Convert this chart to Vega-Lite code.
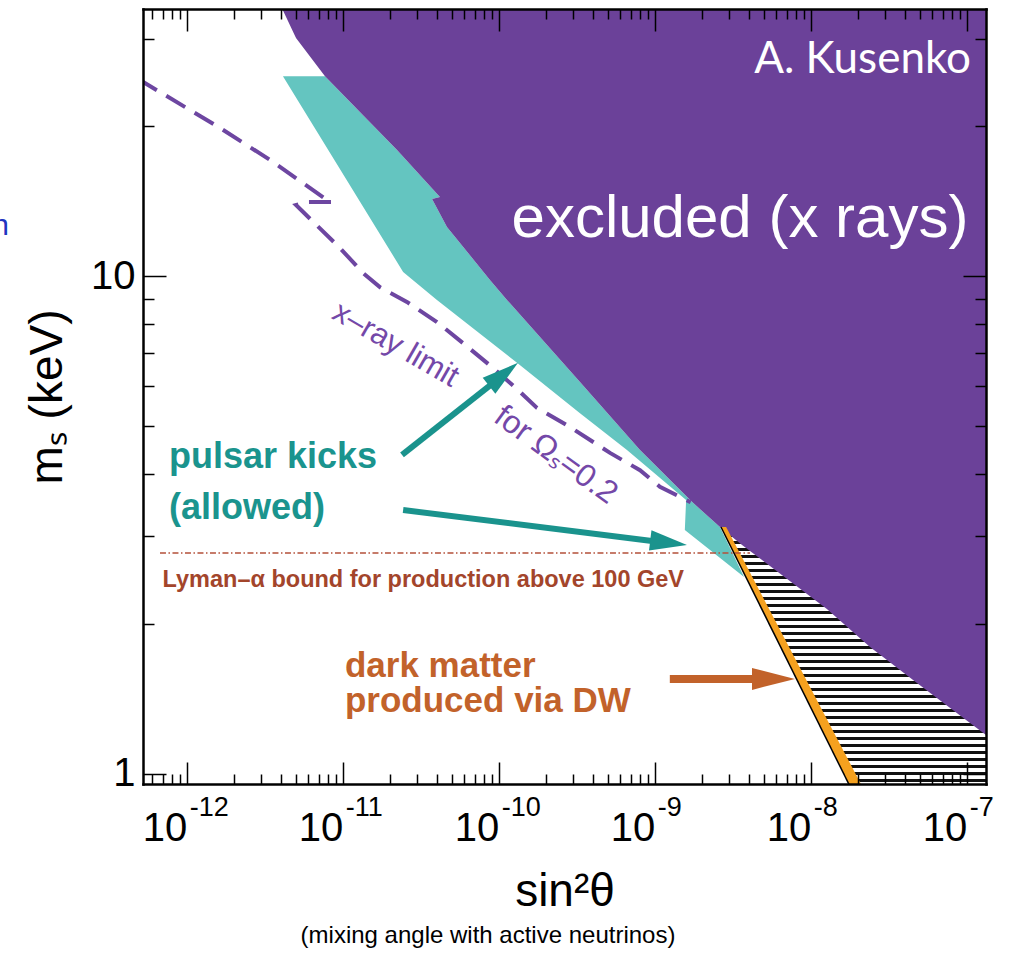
{
  "$schema": "https://vega.github.io/schema/vega-lite/v6.json",
  "width": 843,
  "height": 775,
  "autosize": {"type": "none"},
  "padding": {"left": 143, "top": 9, "right": 29, "bottom": 169},
  "background": "#ffffff",
  "config": {"view": {"stroke": null}, "font": "Liberation Sans"},
  "datasets": {
    "purple": [
      {"i": 1, "x": 3.83e-12, "y": 36},
      {"i": 2, "x": 5.02e-12, "y": 30.1},
      {"i": 3, "x": 7.70e-12, "y": 25.2},
      {"i": 4, "x": 2.23e-11, "y": 17.92},
      {"i": 5, "x": 4.20e-11, "y": 14.41},
      {"i": 6, "x": 3.74e-11, "y": 14.28},
      {"i": 7, "x": 4.66e-11, "y": 12.55},
      {"i": 8, "x": 8.79e-11, "y": 9.82},
      {"i": 9, "x": 1.13e-10, "y": 8.95},
      {"i": 10, "x": 3.32e-10, "y": 6.12},
      {"i": 11, "x": 8.05e-10, "y": 4.47},
      {"i": 12, "x": 1.76e-9, "y": 3.50},
      {"i": 13, "x": 2.62e-9, "y": 3.13},
      {"i": 14, "x": 3.63e-9, "y": 2.88},
      {"i": 15, "x": 1.27e-8, "y": 2.141},
      {"i": 16, "x": 2.40e-8, "y": 1.796},
      {"i": 17, "x": 4.80e-8, "y": 1.520},
      {"i": 18, "x": 1.4e-7, "y": 1.18},
      {"i": 19, "x": 1.4e-7, "y": 36}
    ],
    "teal": [
      {"i": 1, "x": 4.14e-12, "y": 25.2},
      {"i": 2, "x": 2.44e-11, "y": 10.19},
      {"i": 3, "x": 4.02e-11, "y": 8.95},
      {"i": 4, "x": 1.31e-10, "y": 6.69},
      {"i": 5, "x": 3.32e-10, "y": 5.30},
      {"i": 6, "x": 6.64e-10, "y": 4.47},
      {"i": 7, "x": 1.59e-9, "y": 3.546},
      {"i": 8, "x": 1.56e-9, "y": 3.086},
      {"i": 9, "x": 3.74e-9, "y": 2.483},
      {"i": 10, "x": 2.62e-9, "y": 3.13},
      {"i": 11, "x": 1.76e-9, "y": 3.50},
      {"i": 12, "x": 8.05e-10, "y": 4.47},
      {"i": 13, "x": 3.32e-10, "y": 6.12},
      {"i": 14, "x": 1.13e-10, "y": 8.95},
      {"i": 15, "x": 8.79e-11, "y": 9.82},
      {"i": 16, "x": 4.66e-11, "y": 12.55},
      {"i": 17, "x": 3.74e-11, "y": 14.28},
      {"i": 18, "x": 4.20e-11, "y": 14.41},
      {"i": 19, "x": 2.23e-11, "y": 17.92},
      {"i": 20, "x": 7.70e-12, "y": 25.2}
    ],
    "orange": [
      {"i": 1, "x": 2.66e-9, "y": 3.13},
      {"i": 2, "x": 2.87e-9, "y": 3.13},
      {"i": 3, "x": 2.13e-8, "y": 0.944},
      {"i": 4, "x": 1.79e-8, "y": 0.944}
    ],
    "hatch": [
      {"i": 1, "x": 2.66e-9, "y": 3.13},
      {"i": 2, "x": 1.4e-7, "y": 1.855},
      {"i": 3, "x": 1.4e-7, "y": 0.944},
      {"i": 4, "x": 1.79e-8, "y": 0.944}
    ],
    "bline": [
      {"i": 1, "x": 2.66e-9, "y": 3.13},
      {"i": 2, "x": 1.78e-8, "y": 0.944}
    ],
    "dashed": [
      {"i": 1, "x": 4.87e-13, "y": 24.9},
      {"i": 2, "x": 1.635e-12, "y": 19.84},
      {"i": 3, "x": 3.42e-12, "y": 17.11},
      {"i": 4, "x": 7.93e-12, "y": 14.22},
      {"i": 5, "x": 8.54e-12, "y": 14.09},
      {"i": 6, "x": 5.90e-12, "y": 14.09},
      {"i": 7, "x": 5.02e-12, "y": 13.89},
      {"i": 8, "x": 9.61e-12, "y": 11.38},
      {"i": 9, "x": 1.35e-11, "y": 10.14},
      {"i": 10, "x": 1.73e-11, "y": 9.50},
      {"i": 11, "x": 2.58e-11, "y": 8.87},
      {"i": 12, "x": 4.02e-11, "y": 8.08},
      {"i": 13, "x": 5.90e-11, "y": 7.33},
      {"i": 14, "x": 9.06e-11, "y": 6.56},
      {"i": 15, "x": 1.33e-10, "y": 5.90},
      {"i": 16, "x": 1.76e-10, "y": 5.43},
      {"i": 17, "x": 2.87e-10, "y": 4.97},
      {"i": 18, "x": 5.17e-10, "y": 4.41},
      {"i": 19, "x": 8.05e-10, "y": 4.07},
      {"i": 20, "x": 1.08e-9, "y": 3.77},
      {"i": 21, "x": 1.70e-9, "y": 3.51}
    ],
    "lyman": [
      {"i": 1, "x": 6.74e-13, "y": 2.775},
      {"i": 2, "x": 4.08e-9, "y": 2.775}
    ],
    "shafts": [
      {"k": "teal", "x": 2.40e-11, "y": 4.37, "x2": 9.06e-11, "y2": 6.07},
      {"k": "teal", "x": 2.44e-11, "y": 3.385, "x2": 9.61e-10, "y2": 2.934},
      {"k": "orange", "x": 1.25e-9, "y": 1.549, "x2": 4.39e-9, "y2": 1.549}
    ],
    "heads": [
      {"k": "t1", "x": 1.33e-10, "y": 6.69},
      {"k": "t2", "x": 1.61e-9, "y": 2.88},
      {"k": "o1", "x": 7.93e-9, "y": 1.549}
    ],
    "labels": [
      {"k": "kus", "x": 2.15e-8, "y": 25.59, "t": "A. Kusenko"},
      {"k": "exc", "x": 3.52e-9, "y": 11.98, "t": "excluded (x rays)"},
      {"k": "pk", "x": 7.7e-13, "y": 4.113, "t": "pulsar kicks"},
      {"k": "pk", "x": 7.7e-13, "y": 3.248, "t": "(allowed)"},
      {"k": "dm", "x": 1.034e-11, "y": 1.563, "t": "dark matter"},
      {"k": "dm", "x": 1.034e-11, "y": 1.329, "t": "produced via DW"},
      {"k": "ly", "x": 7.0e-13, "y": 2.371, "t": "Lyman–α bound for production above 100 GeV"},
      {"k": "xr", "x": 2.18e-11, "y": 7.27, "t": "x–ray limit"},
      {"k": "om", "x": 2.33e-10, "y": 4.37, "t": "for Ωₛ=0.2"},
      {"k": "sub", "x": 8.54e-11, "y": 0.4563, "t": "(mixing angle with active neutrinos)"},
      {"k": "blue", "x": 7.26e-14, "y": 12.09, "t": "n"},
      {"k": "exp", "x": 1e-12, "y": 0.9526, "t": "-12"},
      {"k": "exp", "x": 1e-11, "y": 0.9526, "t": "-11"},
      {"k": "exp", "x": 1e-10, "y": 0.9526, "t": "-10"},
      {"k": "exp", "x": 1e-9, "y": 0.9526, "t": "-9"},
      {"k": "exp", "x": 1e-8, "y": 0.9526, "t": "-8"},
      {"k": "exp", "x": 1e-7, "y": 0.9526, "t": "-7"}
    ]
  },
  "encoding": {
    "x": {"field": "x", "type": "quantitative", "scale": {"type": "log", "domain": [5.247e-13, 1.3295e-7], "nice": false}, "axis": null},
    "y": {"field": "y", "type": "quantitative", "scale": {"type": "log", "domain": [0.9526, 34.41], "nice": false}, "axis": null}
  },
  "resolve": {"axis": {"x": "independent", "y": "independent"}},
  "layer": [
    {
      "data": {"name": "hatch"},
      "mark": {"type": "line", "clip": true, "strokeWidth": 0, "fill": {"gradient": "linear", "x1": 0, "y1": 0, "x2": 0, "y2": 1, "stops": [
        {"offset": 0, "color": "#111"}, {"offset": 0.0116, "color": "#111"}, {"offset": 0.0116, "color": "#fff"}, {"offset": 0.0270, "color": "#fff"},
        {"offset": 0.0270, "color": "#111"}, {"offset": 0.0386, "color": "#111"}, {"offset": 0.0386, "color": "#fff"}, {"offset": 0.0541, "color": "#fff"},
        {"offset": 0.0541, "color": "#111"}, {"offset": 0.0657, "color": "#111"}, {"offset": 0.0657, "color": "#fff"}, {"offset": 0.0811, "color": "#fff"},
        {"offset": 0.0811, "color": "#111"}, {"offset": 0.0927, "color": "#111"}, {"offset": 0.0927, "color": "#fff"}, {"offset": 0.1081, "color": "#fff"},
        {"offset": 0.1081, "color": "#111"}, {"offset": 0.1197, "color": "#111"}, {"offset": 0.1197, "color": "#fff"}, {"offset": 0.1351, "color": "#fff"},
        {"offset": 0.1351, "color": "#111"}, {"offset": 0.1467, "color": "#111"}, {"offset": 0.1467, "color": "#fff"}, {"offset": 0.1622, "color": "#fff"},
        {"offset": 0.1622, "color": "#111"}, {"offset": 0.1738, "color": "#111"}, {"offset": 0.1738, "color": "#fff"}, {"offset": 0.1892, "color": "#fff"},
        {"offset": 0.1892, "color": "#111"}, {"offset": 0.2008, "color": "#111"}, {"offset": 0.2008, "color": "#fff"}, {"offset": 0.2162, "color": "#fff"},
        {"offset": 0.2162, "color": "#111"}, {"offset": 0.2278, "color": "#111"}, {"offset": 0.2278, "color": "#fff"}, {"offset": 0.2432, "color": "#fff"},
        {"offset": 0.2432, "color": "#111"}, {"offset": 0.2548, "color": "#111"}, {"offset": 0.2548, "color": "#fff"}, {"offset": 0.2703, "color": "#fff"},
        {"offset": 0.2703, "color": "#111"}, {"offset": 0.2819, "color": "#111"}, {"offset": 0.2819, "color": "#fff"}, {"offset": 0.2973, "color": "#fff"},
        {"offset": 0.2973, "color": "#111"}, {"offset": 0.3089, "color": "#111"}, {"offset": 0.3089, "color": "#fff"}, {"offset": 0.3243, "color": "#fff"},
        {"offset": 0.3243, "color": "#111"}, {"offset": 0.3359, "color": "#111"}, {"offset": 0.3359, "color": "#fff"}, {"offset": 0.3514, "color": "#fff"},
        {"offset": 0.3514, "color": "#111"}, {"offset": 0.3630, "color": "#111"}, {"offset": 0.3630, "color": "#fff"}, {"offset": 0.3784, "color": "#fff"},
        {"offset": 0.3784, "color": "#111"}, {"offset": 0.3900, "color": "#111"}, {"offset": 0.3900, "color": "#fff"}, {"offset": 0.4054, "color": "#fff"},
        {"offset": 0.4054, "color": "#111"}, {"offset": 0.4170, "color": "#111"}, {"offset": 0.4170, "color": "#fff"}, {"offset": 0.4324, "color": "#fff"},
        {"offset": 0.4324, "color": "#111"}, {"offset": 0.4440, "color": "#111"}, {"offset": 0.4440, "color": "#fff"}, {"offset": 0.4595, "color": "#fff"},
        {"offset": 0.4595, "color": "#111"}, {"offset": 0.4711, "color": "#111"}, {"offset": 0.4711, "color": "#fff"}, {"offset": 0.4865, "color": "#fff"},
        {"offset": 0.4865, "color": "#111"}, {"offset": 0.4981, "color": "#111"}, {"offset": 0.4981, "color": "#fff"}, {"offset": 0.5135, "color": "#fff"},
        {"offset": 0.5135, "color": "#111"}, {"offset": 0.5251, "color": "#111"}, {"offset": 0.5251, "color": "#fff"}, {"offset": 0.5405, "color": "#fff"},
        {"offset": 0.5405, "color": "#111"}, {"offset": 0.5521, "color": "#111"}, {"offset": 0.5521, "color": "#fff"}, {"offset": 0.5676, "color": "#fff"},
        {"offset": 0.5676, "color": "#111"}, {"offset": 0.5792, "color": "#111"}, {"offset": 0.5792, "color": "#fff"}, {"offset": 0.5946, "color": "#fff"},
        {"offset": 0.5946, "color": "#111"}, {"offset": 0.6062, "color": "#111"}, {"offset": 0.6062, "color": "#fff"}, {"offset": 0.6216, "color": "#fff"},
        {"offset": 0.6216, "color": "#111"}, {"offset": 0.6332, "color": "#111"}, {"offset": 0.6332, "color": "#fff"}, {"offset": 0.6486, "color": "#fff"},
        {"offset": 0.6486, "color": "#111"}, {"offset": 0.6602, "color": "#111"}, {"offset": 0.6602, "color": "#fff"}, {"offset": 0.6757, "color": "#fff"},
        {"offset": 0.6757, "color": "#111"}, {"offset": 0.6873, "color": "#111"}, {"offset": 0.6873, "color": "#fff"}, {"offset": 0.7027, "color": "#fff"},
        {"offset": 0.7027, "color": "#111"}, {"offset": 0.7143, "color": "#111"}, {"offset": 0.7143, "color": "#fff"}, {"offset": 0.7297, "color": "#fff"},
        {"offset": 0.7297, "color": "#111"}, {"offset": 0.7413, "color": "#111"}, {"offset": 0.7413, "color": "#fff"}, {"offset": 0.7568, "color": "#fff"},
        {"offset": 0.7568, "color": "#111"}, {"offset": 0.7684, "color": "#111"}, {"offset": 0.7684, "color": "#fff"}, {"offset": 0.7838, "color": "#fff"},
        {"offset": 0.7838, "color": "#111"}, {"offset": 0.7954, "color": "#111"}, {"offset": 0.7954, "color": "#fff"}, {"offset": 0.8108, "color": "#fff"},
        {"offset": 0.8108, "color": "#111"}, {"offset": 0.8224, "color": "#111"}, {"offset": 0.8224, "color": "#fff"}, {"offset": 0.8378, "color": "#fff"},
        {"offset": 0.8378, "color": "#111"}, {"offset": 0.8494, "color": "#111"}, {"offset": 0.8494, "color": "#fff"}, {"offset": 0.8649, "color": "#fff"},
        {"offset": 0.8649, "color": "#111"}, {"offset": 0.8765, "color": "#111"}, {"offset": 0.8765, "color": "#fff"}, {"offset": 0.8919, "color": "#fff"},
        {"offset": 0.8919, "color": "#111"}, {"offset": 0.9035, "color": "#111"}, {"offset": 0.9035, "color": "#fff"}, {"offset": 0.9189, "color": "#fff"},
        {"offset": 0.9189, "color": "#111"}, {"offset": 0.9305, "color": "#111"}, {"offset": 0.9305, "color": "#fff"}, {"offset": 0.9459, "color": "#fff"},
        {"offset": 0.9459, "color": "#111"}, {"offset": 0.9575, "color": "#111"}, {"offset": 0.9575, "color": "#fff"}, {"offset": 0.9730, "color": "#fff"},
        {"offset": 0.9730, "color": "#111"}, {"offset": 0.9846, "color": "#111"}, {"offset": 0.9846, "color": "#fff"}, {"offset": 1, "color": "#fff"}
      ]}},
      "encoding": {"order": {"field": "i", "type": "quantitative"}}
    },
    {
      "data": {"name": "teal"},
      "mark": {"type": "line", "clip": true, "strokeWidth": 0, "fill": "#64c5c0"},
      "encoding": {"order": {"field": "i", "type": "quantitative"}}
    },
    {
      "data": {"name": "purple"},
      "mark": {"type": "line", "clip": true, "strokeWidth": 0, "fill": "#6b4199"},
      "encoding": {"order": {"field": "i", "type": "quantitative"}}
    },
    {
      "data": {"name": "orange"},
      "mark": {"type": "line", "clip": true, "strokeWidth": 0, "fill": "#f5a11f"},
      "encoding": {"order": {"field": "i", "type": "quantitative"}}
    },
    {
      "data": {"name": "bline"},
      "mark": {"type": "line", "clip": true, "stroke": "#000000", "strokeWidth": 1.5},
      "encoding": {"order": {"field": "i", "type": "quantitative"}}
    },
    {
      "data": {"name": "dashed"},
      "mark": {"type": "line", "clip": true, "stroke": "#6d46a1", "strokeWidth": 4, "strokeDash": [22, 11]},
      "encoding": {
        "order": {"field": "i", "type": "quantitative"},
        "x": {"field": "x", "type": "quantitative", "scale": {"type": "log", "domain": [5.247e-13, 1.3295e-7], "nice": false},
          "axis": {"orient": "top", "values": [6e-13, 7e-13, 8e-13, 9e-13, 1e-12, 2e-12, 3e-12, 4e-12, 5e-12, 6e-12, 7e-12, 8e-12, 9e-12, 1e-11, 2e-11, 3e-11, 4e-11, 5e-11, 6e-11, 7e-11, 8e-11, 9e-11, 1e-10, 2e-10, 3e-10, 4e-10, 5e-10, 6e-10, 7e-10, 8e-10, 9e-10, 1e-9, 2e-9, 3e-9, 4e-9, 5e-9, 6e-9, 7e-9, 8e-9, 9e-9, 1e-8, 2e-8, 3e-8, 4e-8, 5e-8, 6e-8, 7e-8, 8e-8, 9e-8, 1e-7],
            "labels": false, "title": null, "grid": false, "zindex": 1,
            "tickSize": {"condition": {"test": "abs(log(datum.value)/LN10 - round(log(datum.value)/LN10)) < 0.01", "value": -22}, "value": -10},
            "tickColor": "#000000", "tickWidth": 1.5,
            "domain": true, "domainColor": "#000000", "domainWidth": 2.5, "domainCap": "square"}},
        "y": {"field": "y", "type": "quantitative", "scale": {"type": "log", "domain": [0.9526, 34.41], "nice": false},
          "axis": {"orient": "right", "values": [1, 2, 3, 4, 5, 6, 7, 8, 9, 10, 20, 30],
            "labels": false, "title": null, "grid": false, "zindex": 1,
            "tickSize": {"condition": {"test": "datum.value == 1 || datum.value == 10", "value": -23}, "value": -11},
            "tickColor": "#000000", "tickWidth": 1.5,
            "domain": true, "domainColor": "#000000", "domainWidth": 2.5, "domainCap": "square"}}
      }
    },
    {
      "data": {"name": "lyman"},
      "mark": {"type": "line", "clip": true, "stroke": "#b4503a", "strokeWidth": 1.3, "strokeDash": [6, 2.5, 1.5, 2.5]},
      "encoding": {
        "order": {"field": "i", "type": "quantitative"},
        "x": {"field": "x", "type": "quantitative", "scale": {"type": "log", "domain": [5.247e-13, 1.3295e-7], "nice": false},
          "axis": {"orient": "bottom", "values": [6e-13, 7e-13, 8e-13, 9e-13, 1e-12, 2e-12, 3e-12, 4e-12, 5e-12, 6e-12, 7e-12, 8e-12, 9e-12, 1e-11, 2e-11, 3e-11, 4e-11, 5e-11, 6e-11, 7e-11, 8e-11, 9e-11, 1e-10, 2e-10, 3e-10, 4e-10, 5e-10, 6e-10, 7e-10, 8e-10, 9e-10, 1e-9, 2e-9, 3e-9, 4e-9, 5e-9, 6e-9, 7e-9, 8e-9, 9e-9, 1e-8, 2e-8, 3e-8, 4e-8, 5e-8, 6e-8, 7e-8, 8e-8, 9e-8, 1e-7],
            "labelExpr": "abs(log(datum.value)/LN10 - round(log(datum.value)/LN10)) < 0.01 ? '10' : ''",
            "labelAlign": "right", "labelBaseline": "alphabetic", "labelFont": "Liberation Sans", "labelFontSize": 40, "labelColor": "#000000",
            "labelPadding": 78, "labelOverlap": false, "labelFlush": false, "labelBound": false,
            "grid": false, "zindex": 1,
            "tickSize": {"condition": {"test": "abs(log(datum.value)/LN10 - round(log(datum.value)/LN10)) < 0.01", "value": -22}, "value": -10},
            "tickColor": "#000000", "tickWidth": 1.5,
            "domain": true, "domainColor": "#000000", "domainWidth": 2.5, "domainCap": "square",
            "title": "sin²θ", "titleFont": "Liberation Sans", "titleFontSize": 46, "titleFontWeight": "normal", "titleColor": "#000000",
            "titleBaseline": "alphabetic", "titleY": 121}},
        "y": {"field": "y", "type": "quantitative", "scale": {"type": "log", "domain": [0.9526, 34.41], "nice": false},
          "axis": {"orient": "left", "values": [1, 2, 3, 4, 5, 6, 7, 8, 9, 10, 20, 30],
            "labelExpr": "datum.value == 1 ? '1' : (datum.value == 10 ? '10' : '')",
            "labelAlign": "right", "labelBaseline": "middle", "labelFont": "Liberation Sans", "labelFontSize": 40, "labelColor": "#000000",
            "labelPadding": 31, "labelOverlap": false, "labelFlush": false, "labelBound": false,
            "grid": false, "zindex": 1,
            "tickSize": {"condition": {"test": "datum.value == 1 || datum.value == 10", "value": -23}, "value": -11},
            "tickColor": "#000000", "tickWidth": 1.5,
            "domain": true, "domainColor": "#000000", "domainWidth": 2.5, "domainCap": "square",
            "title": "mₛ (keV)", "titleFont": "Liberation Sans", "titleFontSize": 46, "titleFontWeight": "normal", "titleColor": "#000000",
            "titleAngle": 270, "titleBaseline": "alphabetic", "titleX": -82}}
      }
    },
    {
      "data": {"name": "shafts"},
      "transform": [{"filter": "datum.k == 'teal'"}],
      "mark": {"type": "rule", "stroke": "#1a938d", "strokeWidth": 6},
      "encoding": {"x2": {"field": "x2"}, "y2": {"field": "y2"}}
    },
    {
      "data": {"name": "shafts"},
      "transform": [{"filter": "datum.k == 'orange'"}],
      "mark": {"type": "rule", "stroke": "#c2622a", "strokeWidth": 8},
      "encoding": {"x2": {"field": "x2"}, "y2": {"field": "y2"}}
    },
    {
      "data": {"name": "heads"},
      "transform": [{"filter": "datum.k == 't1'"}],
      "mark": {"type": "point", "shape": "M0,0L0.55,2L-0.55,2Z", "size": 1369, "angle": 51.6, "filled": true, "fill": "#1a938d", "strokeWidth": 0, "opacity": 1}
    },
    {
      "data": {"name": "heads"},
      "transform": [{"filter": "datum.k == 't2'"}],
      "mark": {"type": "point", "shape": "M0,0L0.55,2L-0.55,2Z", "size": 1369, "angle": 97, "filled": true, "fill": "#1a938d", "strokeWidth": 0, "opacity": 1}
    },
    {
      "data": {"name": "heads"},
      "transform": [{"filter": "datum.k == 'o1'"}],
      "mark": {"type": "point", "shape": "M0,0L0.51,2L-0.51,2Z", "size": 1849, "angle": 90, "filled": true, "fill": "#c2622a", "strokeWidth": 0, "opacity": 1}
    },
    {
      "data": {"name": "labels"},
      "transform": [{"filter": "datum.k == 'kus'"}],
      "mark": {"type": "text", "font": "Lato", "fontSize": 44, "fill": "#ffffff", "align": "center", "baseline": "alphabetic"},
      "encoding": {"text": {"field": "t"}}
    },
    {
      "data": {"name": "labels"},
      "transform": [{"filter": "datum.k == 'exc'"}],
      "mark": {"type": "text", "font": "Liberation Sans", "fontSize": 60, "fill": "#ffffff", "align": "center", "baseline": "alphabetic"},
      "encoding": {"text": {"field": "t"}}
    },
    {
      "data": {"name": "labels"},
      "transform": [{"filter": "datum.k == 'pk'"}],
      "mark": {"type": "text", "font": "Liberation Sans", "fontWeight": "bold", "fontSize": 36, "fill": "#1a948e", "align": "left", "baseline": "alphabetic"},
      "encoding": {"text": {"field": "t"}}
    },
    {
      "data": {"name": "labels"},
      "transform": [{"filter": "datum.k == 'dm'"}],
      "mark": {"type": "text", "font": "Liberation Sans", "fontWeight": "bold", "fontSize": 35, "fill": "#c2622a", "align": "left", "baseline": "alphabetic"},
      "encoding": {"text": {"field": "t"}}
    },
    {
      "data": {"name": "labels"},
      "transform": [{"filter": "datum.k == 'ly'"}],
      "mark": {"type": "text", "font": "Liberation Sans", "fontWeight": "bold", "fontSize": 23.5, "fill": "#a3452b", "align": "left", "baseline": "alphabetic"},
      "encoding": {"text": {"field": "t"}}
    },
    {
      "data": {"name": "labels"},
      "transform": [{"filter": "datum.k == 'xr'"}],
      "mark": {"type": "text", "font": "Liberation Sans", "fontSize": 31, "fill": "#7448a8", "align": "center", "baseline": "middle", "angle": 30},
      "encoding": {"text": {"field": "t"}}
    },
    {
      "data": {"name": "labels"},
      "transform": [{"filter": "datum.k == 'om'"}],
      "mark": {"type": "text", "font": "Liberation Sans", "fontSize": 32, "fill": "#7448a8", "align": "center", "baseline": "middle", "angle": 36},
      "encoding": {"text": {"field": "t"}}
    },
    {
      "data": {"name": "labels"},
      "transform": [{"filter": "datum.k == 'sub'"}],
      "mark": {"type": "text", "font": "Liberation Sans", "fontSize": 24, "fill": "#000000", "align": "center", "baseline": "alphabetic"},
      "encoding": {"text": {"field": "t"}}
    },
    {
      "data": {"name": "labels"},
      "transform": [{"filter": "datum.k == 'blue'"}],
      "mark": {"type": "text", "font": "Liberation Sans", "fontSize": 30, "fill": "#1f35c0", "align": "right", "baseline": "alphabetic"},
      "encoding": {"text": {"field": "t"}}
    },
    {
      "data": {"name": "labels"},
      "transform": [{"filter": "datum.k == 'exp'"}],
      "mark": {"type": "text", "font": "Liberation Sans", "fontSize": 27, "fill": "#000000", "align": "left", "baseline": "alphabetic", "dx": 3, "dy": 32},
      "encoding": {"text": {"field": "t"}}
    }
  ]
}
